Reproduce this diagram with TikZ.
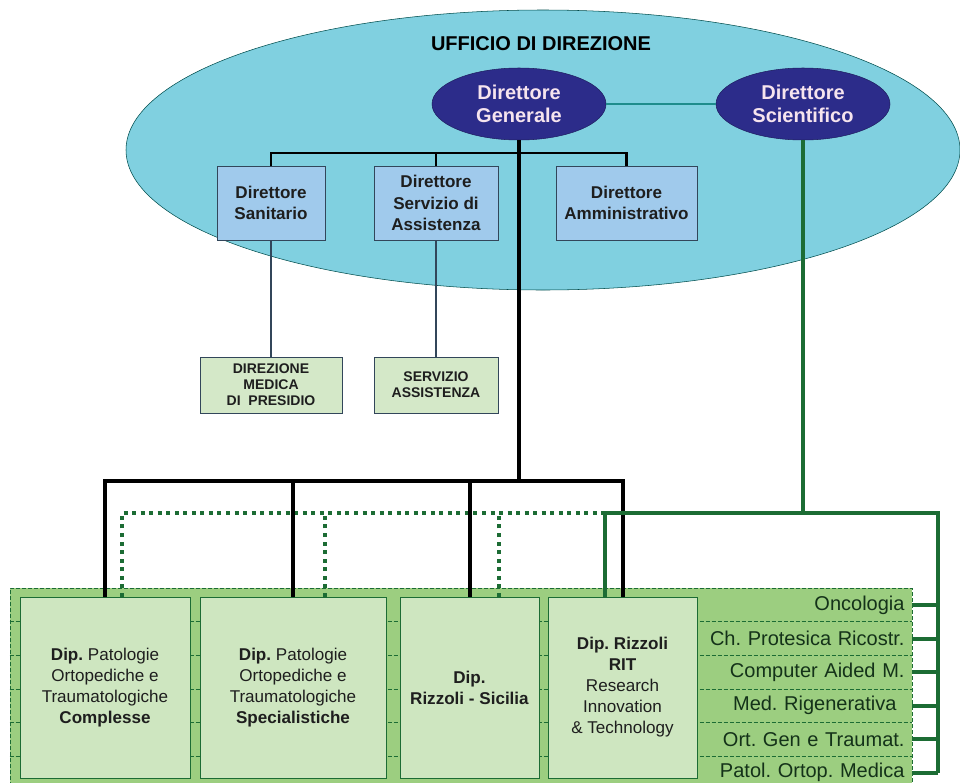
\documentclass[tikz,border=0pt]{standalone}
\usepackage{fontspec}
\setmainfont{Liberation Sans}
\usetikzlibrary{shapes.geometric,positioning}
\definecolor{celeste}{RGB}{128,208,224}
\definecolor{navy}{RGB}{44,44,138}
\definecolor{rosa}{RGB}{246,228,238}
\definecolor{azzurro}{RGB}{160,202,236}
\definecolor{verdino}{RGB}{212,232,200}
\definecolor{verdedip}{RGB}{206,230,192}
\definecolor{verdebg}{RGB}{156,206,128}
\definecolor{verdescuro}{RGB}{28,108,52}
\definecolor{bordo}{RGB}{50,70,90}
\definecolor{testo}{RGB}{30,30,30}
\definecolor{testoverde}{RGB}{20,50,25}
\definecolor{lineateal}{RGB}{30,140,140}

\begin{document}
\begin{tikzpicture}[x=0.75pt,y=-0.75pt,
   ufficio/.style={ellipse,draw=teal!60!black,fill=celeste,minimum width=625.5pt,minimum height=210pt,inner sep=0pt},
   direttore/.style={ellipse,draw=navy!70!black,fill=navy,text=rosa,minimum width=130.5pt,minimum height=54pt,inner sep=0pt,align=center,font=\fontsize{15}{17.5}\selectfont\bfseries},
   bluebox/.style={draw=bordo,fill=azzurro,minimum height=55.5pt,inner sep=0pt,align=center,font=\fontsize{12.8}{16}\selectfont\bfseries,text=testo},
   subbox/.style={draw=bordo,fill=verdino,minimum height=42pt,inner sep=0pt,align=center,font=\fontsize{10.5}{12}\selectfont\bfseries,text=testo},
   dipbox/.style={draw=verdescuro,fill=verdedip,minimum height=135.75pt,inner sep=0pt,align=center,font=\fontsize{12.8}{15.75}\selectfont\frenchspacing,text=testo},
   rowbox/.style={minimum width=161.25pt,minimum height=24.75pt,inner sep=0pt,text width=150pt,align=right,font=\fontsize{15}{18}\selectfont\frenchspacing,text=testoverde},
   rowsep/.style={draw=verdescuro,dash pattern=on 3pt off 1.5pt,line width=0.5pt},
   dgline/.style={line width=2.2pt,black},
   dgbus/.style={line width=3pt,black},
   subline/.style={line width=0.8pt,bordo},
   dsline/.style={line width=3pt,verdescuro},
   dsdot/.style={line width=3pt,verdescuro,dash pattern=on 3pt off 3.4pt}]
   \useasboundingbox (0,0) rectangle (960,782);
   \node[ufficio] (uff) at (543,150) {};
   \node[font=\fontsize{15}{18}\selectfont\bfseries] (titolo) at (541,44) {UFFICIO DI DIREZIONE};
   \node[direttore] (dg) at (519,104) {Direttore\\Generale};
   \node[direttore] (ds) at (803,104) {Direttore\\Scientifico};
   \node[bluebox,minimum width=81pt] (san) at (271,203) {Direttore\\Sanitario};
   \node[bluebox,minimum width=93pt] (ass) at (436,203) {Direttore\\Servizio di\\Assistenza};
   \node[bluebox,minimum width=105.75pt] (amm) at (626.5,203) {Direttore\\Amministrativo};
   \node[subbox,minimum width=106.5pt] (med) at (271,385) {DIREZIONE\\MEDICA\\DI\ \ PRESIDIO};
   \node[subbox,minimum width=93pt] (serv) at (436,385) {SERVIZIO\\ASSISTENZA};

   \node[draw=verdescuro,dash pattern=on 3pt off 1.5pt,line width=0.5pt,fill=verdebg,minimum width=676.5pt,minimum height=153pt,inner sep=0pt] (fondo) at (461,690) {};
   \node[rowbox] (r1) at (804.5,605) {Oncologia};
   \node[rowbox] (r2) [below=0pt of r1] {Ch. Protesica Ricostr.};
   \node[rowbox] (r3) [below=0pt of r2] {Computer Aided M.};
   \node[rowbox] (r4) [below=0pt of r3] {Med. Rigenerativa\hspace*{6pt}};
   \node[rowbox] (r5) [below=0pt of r4] {Ort. Gen e Traumat.};
   \node[rowbox] (r6) [below=0pt of r5] {Patol. Ortop. Medica};
   \foreach \r in {r1,r2,r3,r4,r5}
      \draw[rowsep] (fondo.west |- \r.south) -- (\r.south east);
   \node[dipbox,minimum width=127.5pt] (box1) at (105,687.5) {\textbf{Dip.} Patologie\\Ortopediche e\\Traumatologiche\\\textbf{Complesse}};
   \node[dipbox,minimum width=139.5pt] (box2) at (293,687.5) {\textbf{Dip.} Patologie\\Ortopediche e\\Traumatologiche\\\textbf{Specialistiche}};
   \node[dipbox,minimum width=104.25pt] (box3) at (469.5,687.5) {\textbf{Dip.}\\\textbf{Rizzoli - Sicilia}};
   \node[dipbox,minimum width=111.75pt] (box4) at (622.5,687.5) {\textbf{Dip. Rizzoli}\\\textbf{RIT}\\Research\\Innovation\\\&~Technology};

   \coordinate (jtop) at (519,153);
   \coordinate (jbot) at (519,481);
   \coordinate (gj) at (803,513);
   \coordinate (gbus) at (938,513);
   \coordinate (gdot) at (605,513);
   \coordinate (d1) at ([xshift=12.75pt]box1.north);
   \coordinate (d2) at ([xshift=24pt]box2.north);
   \coordinate (d3) at ([xshift=21.75pt]box3.north);
   \coordinate (d4) at ([xshift=-13.1pt]box4.north);

   \draw[lineateal,line width=1.1pt] (dg) -- (ds);
   \draw[dgline] (san.north) |- (jtop) -| (amm.north);
   \draw[dgline] (ass.north) -- (ass.north |- jtop);
   \draw[subline] (san.south) -- (med.north);
   \draw[subline] (ass.south) -- (serv.north);

   \draw[dsdot] (d1) |- (gdot);
   \draw[dsdot] (d2) -- (d2 |- gdot);
   \draw[dsdot] (d3) -- (d3 |- gdot);

   \draw[dgbus] (dg.south) -- (jbot);
   \draw[dgbus] (box1.north) |- (jbot) -| (box4.north);
   \draw[dgbus] (box2.north) -- (box2.north |- jbot);
   \draw[dgbus] (box3.north) -- (box3.north |- jbot);

   \draw[dsline] (ds.south) -- (gj);
   \draw[dsline] (d4) |- (gbus) -- (gbus |- r6.east);
   \foreach \r in {r1,r2,r3,r4,r5,r6}
      \draw[dsline] (gbus |- \r.east) -- (\r.east);
\end{tikzpicture}
\end{document}
